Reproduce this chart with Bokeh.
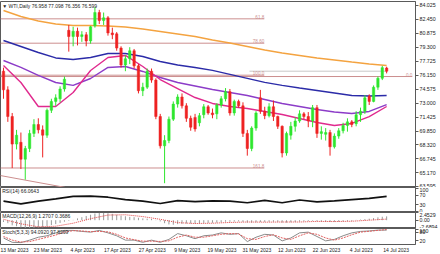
from bokeh.plotting import figure
from bokeh.layouts import column
from bokeh.models import Range1d, FixedTicker, Label, ColumnDataSource, NumeralTickFormatter
from bokeh.embed import file_html
from bokeh.resources import INLINE

# ---------------- data ----------------
opens = [76.6, 74.5, 71.5, 68.4, 68.6, 66.7, 67.9, 69.6, 70.6, 70.0,
         69.4, 72.2, 73.2, 73.5, 74.6, 81.2, 80.5, 81.1, 80.5, 80.7,
         80.0, 81.7, 83.2, 82.3, 82.6, 80.9, 80.8, 79.2, 77.3, 78.0,
         78.9, 77.2, 74.4, 74.8, 76.6, 75.6, 71.5, 68.2, 68.8, 71.2,
         72.9, 73.7, 72.7, 71.3, 71.4, 70.8, 71.7, 72.6, 71.9, 71.8,
         72.8, 73.5, 74.3, 71.9, 73.2, 72.7, 69.6, 67.9, 70.2, 73.6,
         72.1, 71.6, 72.6, 71.5, 70.4, 67.4, 69.4, 70.4, 71.0, 71.8,
         71.5, 71.0, 72.5, 69.6, 69.5, 69.7, 68.1, 69.3, 69.9, 70.5,
         70.9, 70.7, 71.7, 72.1, 73.8, 73.2, 74.8, 75.8, 76.958]
highs = [77.0, 74.9, 71.9, 70.0, 69.7, 68.2, 70.0, 71.2, 71.3, 70.5,
         72.4, 73.5, 74.0, 74.9, 76.0, 81.8, 81.6, 81.5, 81.1, 81.0,
         81.7, 83.8, 83.5, 83.2, 82.8, 81.5, 81.0, 79.4, 78.4, 79.3,
         79.1, 77.4, 75.3, 76.9, 76.9, 75.8, 71.8, 69.4, 71.5, 73.2,
         74.0, 74.1, 73.0, 71.6, 71.8, 71.9, 72.9, 72.8, 72.4, 73.0,
         73.8, 74.7, 74.6, 73.4, 73.4, 73.1, 70.0, 70.4, 72.1, 74.5,
         72.6, 73.0, 73.3, 71.6, 70.5, 69.8, 70.9, 71.4, 72.2, 72.0,
         72.0, 72.8, 72.8, 70.4, 70.2, 70.0, 69.6, 70.2, 70.8, 71.3,
         71.1, 72.1, 72.5, 73.9, 74.0, 75.0, 76.0, 77.2, 77.098]
lows = [73.5, 70.9, 65.7, 67.8, 65.6, 64.4, 67.5, 69.2, 69.6, 66.9,
        69.1, 71.9, 72.7, 73.1, 74.3, 78.8, 79.4, 79.5, 79.9, 79.4,
        79.7, 81.5, 81.9, 81.8, 80.6, 80.2, 78.9, 77.0, 76.6, 77.4,
        76.9, 74.1, 73.8, 74.6, 75.3, 71.2, 67.9, 64.0, 68.5, 71.0,
        72.5, 72.4, 70.9, 69.9, 69.8, 70.4, 71.3, 71.7, 71.3, 71.2,
        72.5, 73.2, 71.6, 71.6, 72.5, 69.2, 67.1, 67.6, 69.9, 71.8,
        71.2, 71.4, 71.0, 70.1, 66.9, 67.1, 68.9, 69.8, 70.8, 71.2,
        70.3, 70.3, 69.1, 68.9, 68.8, 67.1, 67.9, 69.0, 69.6, 69.8,
        70.3, 70.4, 70.9, 71.8, 72.8, 73.1, 74.5, 75.6, 76.356]
closes = [74.5, 71.5, 68.4, 69.4, 66.7, 67.9, 69.6, 70.6, 70.0, 69.4,
          72.2, 73.2, 73.6, 74.6, 75.7, 80.5, 81.1, 80.5, 80.7, 80.0,
          81.6, 83.2, 82.3, 82.6, 80.9, 80.7, 79.2, 77.3, 78.0, 78.9,
          77.2, 74.4, 74.8, 76.6, 75.6, 71.5, 68.2, 68.8, 71.2, 72.9,
          73.7, 72.7, 71.3, 70.3, 70.1, 71.6, 72.6, 71.9, 71.7, 72.8,
          73.5, 74.3, 71.9, 73.2, 72.7, 69.6, 67.9, 70.2, 71.9, 72.1,
          71.6, 72.6, 71.5, 70.4, 67.4, 69.6, 70.4, 71.0, 71.8, 71.5,
          71.0, 72.5, 69.6, 69.8, 69.7, 68.1, 69.3, 69.9, 70.5, 70.9,
          70.6, 71.7, 72.1, 73.6, 73.2, 74.8, 75.8, 77.0, 76.599]

date_tick_bars = [0, 8, 16, 24, 32, 40, 48, 56, 64, 72, 80, 88]
date_tick_labels = ["13 Mar 2023", "23 Mar 2023", "4 Apr 2023", "17 Apr 2023",
                    "27 Apr 2023", "9 May 2023", "19 May 2023", "31 May 2023",
                    "12 Jun 2023", "22 Jun 2023", "4 Jul 2023", "14 Jul 2023"]
price_ticks = [84.025, 82.450, 80.875, 79.300, 77.725, 76.150, 74.575, 73.000,
               71.425, 69.850, 68.320, 66.745, 65.170, 63.595]

ma_bars = list(range(0, 89, 4))
ma_orange = [83.43, 82.75, 82.25, 81.91, 81.74, 81.74, 81.68, 81.57, 81.35, 81.07,
             80.79, 80.50, 80.11, 79.77, 79.38, 78.99, 78.65, 78.37, 78.08, 77.86,
             77.63, 77.41, 77.24]
ma_blue = [80.05, 79.38, 78.70, 78.09, 77.92, 78.14, 78.59, 78.59, 78.25, 77.69,
           77.30, 77.02, 76.69, 76.24, 75.79, 75.34, 75.00, 74.71, 74.43, 74.15,
           73.87, 73.81, 73.87]
ma_purple = [77.80, 77.02, 76.12, 75.33, 75.00, 75.78, 77.02, 77.13, 76.57, 75.89,
             75.33, 74.94, 74.54, 74.20, 73.87, 73.42, 72.97, 72.63, 72.29, 72.01,
             71.84, 72.07, 72.85]
ma_magenta = [77.24, 75.33, 72.63, 72.63, 74.20, 76.68, 78.14, 78.37, 77.13, 75.66,
              74.65, 73.64, 72.97, 72.63, 72.40, 72.07, 71.73, 71.28, 70.83, 70.49,
              70.72, 71.50, 72.63]

fib_levels = [82.49, 79.75, 76.15, 65.71]
fib_names = ["61.8", "78.60", "100.0", "161.8"]
fib_end_bar = 59.9
zero_line_level = 76.0
zero_line_end_bar = 93.9
trend_bars = [-0.7, 14.2]
trend_prices = [64.86, 63.52]
bid_line_bars = [56.5, 88.0]
last_price = 76.599

rsi_bars = list(range(0, 89, 4))
rsi_vals = [45, 33, 45, 55, 66, 67, 62, 52, 45, 35, 47, 43, 46, 45, 38, 48, 38, 50,
            42, 46, 52, 57, 66]

macd_hist = [-0.6, -1.0, -1.7, -2.0, -2.4, -2.6, -2.69, -2.55, -2.45, -2.35,
             -2.0, -1.6, -1.3, -0.9, -0.5, -0.2, 0.1, 0.6, 1.0, 1.4,
             1.8, 2.2, 2.45, 2.45, 2.3, 2.1, 1.8, 1.5, 1.3, 1.1,
             1.0, 0.8, 0.6, 0.5, 0.4, 0.1, -0.4, -1.0, -1.4, -1.5,
             -1.3, -1.2, -1.1, -1.1, -1.1, -1.0, -0.9, -0.9, -0.85, -0.8,
             -0.7, -0.5, -0.5, -0.45, -0.4, -0.55, -0.8, -0.8, -0.7, -0.6,
             -0.55, -0.5, -0.5, -0.55, -0.8, -0.8, -0.7, -0.6, -0.45, -0.35,
             -0.3, -0.2, -0.35, -0.45, -0.5, -0.6, -0.55, -0.5, -0.4, -0.3,
             -0.25, 0.1, 0.2, 0.35, 0.5, 0.7, 0.95, 1.15, 1.27]
macd_sig_bars = list(range(0, 89, 4))
macd_sig = [0.3, -1.2, -2.2, -2.0, -1.0, 0.5, 1.7, 1.8, 1.2, 0.3, -0.8, -1.1,
            -1.0, -0.75, -0.6, -0.65, -0.6, -0.6, -0.4, -0.45, -0.35, 0.0, 0.37]

stoch_bars = list(range(0, 89, 2))
stoch_main = [40, 10, 8, 25, 45, 55, 75, 92, 92, 85, 80, 92, 75, 55, 25, 25, 10, 25,
              10, 30, 70, 55, 35, 55, 60, 75, 65, 70, 15, 45, 65, 60, 20, 40, 75, 80,
              50, 20, 30, 55, 75, 85, 88, 94, 94]
stoch_sig = [50, 25, 12, 15, 30, 45, 60, 80, 90, 88, 83, 85, 82, 65, 40, 28, 18, 18,
             16, 20, 45, 60, 45, 45, 55, 65, 70, 68, 35, 30, 50, 62, 40, 30, 55, 75,
             65, 40, 25, 40, 62, 80, 86, 92, 97.8]

# ---------------- style ----------------
FONT = "Liberation Sans"
UP = "#2ee62e"
DN = "#ee2222"
FIB = "#cc8f8f"
FRAME = "#5a5a5a"
W = 440
x_start, x_end = -0.686, 94.63
xr = Range1d(x_start, x_end)


def base(h, yr, top=0, bottom=0, xaxis=False):
    f = figure(width=W, height=h, x_range=xr, y_range=yr, output_backend="svg",
               toolbar_location=None, y_axis_location="right",
               x_axis_location="below" if xaxis else None,
               min_border_left=0, min_border_right=23, min_border_top=top,
               min_border_bottom=bottom)
    f.grid.visible = False
    f.outline_line_color = FRAME
    f.outline_line_width = 1
    f.background_fill_color = "white"
    f.border_fill_color = "white"
    ax = f.yaxis[0]
    ax.axis_line_color = FRAME
    ax.major_tick_out = 3
    ax.major_tick_in = 0
    ax.minor_tick_line_color = None
    ax.major_tick_line_color = FRAME
    ax.major_label_text_font = FONT
    ax.major_label_text_font_size = "5.3px"
    ax.major_label_text_color = "#222222"
    ax.major_label_standoff = 1
    return f


def tag(f, x, y, text, color="#222222", size="5.3px", align="left", baseline="top"):
    f.add_layout(Label(x=x, y=y, text=text, text_font=FONT, text_font_size=size,
                       text_color=color, text_align=align, text_baseline=baseline))


# ---------------- main pane ----------------
main = base(187, Range1d(63.516, 84.44), top=1)
main.yaxis[0].ticker = FixedTicker(ticks=price_ticks)
main.yaxis[0].formatter = NumeralTickFormatter(format="0.000")

bars = list(range(len(closes)))
up = [c >= o for o, c in zip(opens, closes)]
src = ColumnDataSource(dict(
    x=bars, o=opens, h=highs, l=lows, c=closes,
    top=[max(o, c) for o, c in zip(opens, closes)],
    bot=[min(o, c) for o, c in zip(opens, closes)],
    col=[UP if u else DN for u in up]))

# fib / drawing objects
for lvl, name in zip(fib_levels, fib_names):
    main.line([x_start, fib_end_bar], [lvl, lvl], line_color=FIB, line_width=1)
    tag(main, fib_end_bar, lvl, name, color=FIB, size="4.6px", align="right",
        baseline="bottom")
main.line([x_start, zero_line_end_bar], [zero_line_level, zero_line_level],
          line_color=FIB, line_width=1)
tag(main, zero_line_end_bar, zero_line_level, "0.0", color=FIB, size="4.6px",
    align="right", baseline="bottom")
main.line(trend_bars, trend_prices, line_color=FIB, line_width=1)
main.line(bid_line_bars, [last_price, last_price], line_color="#c8c8c8", line_width=1)

# moving averages
main.line(ma_bars, ma_orange, line_color="#f4a340", line_width=1.4)
main.line(ma_bars, ma_blue, line_color="#2b2ba8", line_width=1.4)
main.line(ma_bars, ma_purple, line_color="#8c3cc8", line_width=1.4)
main.line(ma_bars, ma_magenta, line_color="#e02a8e", line_width=1.4)

# candles
main.segment(x0="x", y0="l", x1="x", y1="h", color="col", line_width=1, source=src)
main.vbar(x="x", width=0.55, top="top", bottom="bot", fill_color="col",
          line_color="col", line_width=0.5, source=src)

tag(main, x_start + 0.4, 84.3, "\u25bc WTI,Daily 76.958 77.098 76.356 76.599",
    size="5px")
main.add_layout(Label(x=x_end, y=last_price, x_offset=1, text="76.599",
                      text_font=FONT, text_font_size="5.3px", text_color="white",
                      background_fill_color="black", text_align="left",
                      text_baseline="middle"))

# ---------------- RSI pane ----------------
rsi = base(25, Range1d(-4, 104))
rsi.yaxis[0].ticker = FixedTicker(ticks=[100, 70, 30, 0])
rsi.line(rsi_bars, rsi_vals, line_color="#111111", line_width=1.7)
tag(rsi, x_start + 0.4, 101, "RSI(14) 66.0643", size="5px")

# ---------------- MACD pane ----------------
macd = base(16, Range1d(-2.75, 2.55))
macd.yaxis[0].ticker = FixedTicker(ticks=[2.4529, 0, -2.6894])
macd.yaxis[0].major_label_overrides = {2.4529: "2.4529", 0: "0.00", -2.6894: "-2.6894"}
macd.segment(x0=bars, y0=[0] * len(bars), x1=bars, y1=macd_hist,
             line_color="#9a9a9a", line_width=1)
macd.line(macd_sig_bars, macd_sig, line_color="#e04040", line_width=1,
          line_dash="1 1")
tag(macd, x_start + 0.4, 2.55, "MACD(12,26,9) 1.2707 0.3686", size="5px")

# ---------------- Stoch pane ----------------
stoch = base(27, Range1d(-5, 105), xaxis=True)
stoch.yaxis[0].ticker = FixedTicker(ticks=[100, 80, 20])
stoch.line(stoch_bars, stoch_main, line_color="#8a8a8a", line_width=1)
stoch.line(stoch_bars, stoch_sig, line_color="#e06060", line_width=1, line_dash="2 1")
tag(stoch, x_start + 0.4, 104, "Stoch(5,3,3) 94.0920 97.8269", size="5px")
xa = stoch.xaxis[0]
xa.ticker = FixedTicker(ticks=[b + 2.2 for b in date_tick_bars])
xa.major_label_overrides = {b + 2.2: s for b, s in zip(date_tick_bars, date_tick_labels)}
xa.axis_line_color = None
xa.major_tick_line_color = None
xa.minor_tick_line_color = None
xa.major_tick_out = 0
xa.major_tick_in = 0
xa.major_label_standoff = 2
xa.major_label_text_font = FONT
xa.major_label_text_font_size = "5px"
xa.major_label_text_color = "#222222"

layout = column(main, rsi, macd, stoch, spacing=0)
open("out.html", "w").write(file_html(layout, INLINE))
